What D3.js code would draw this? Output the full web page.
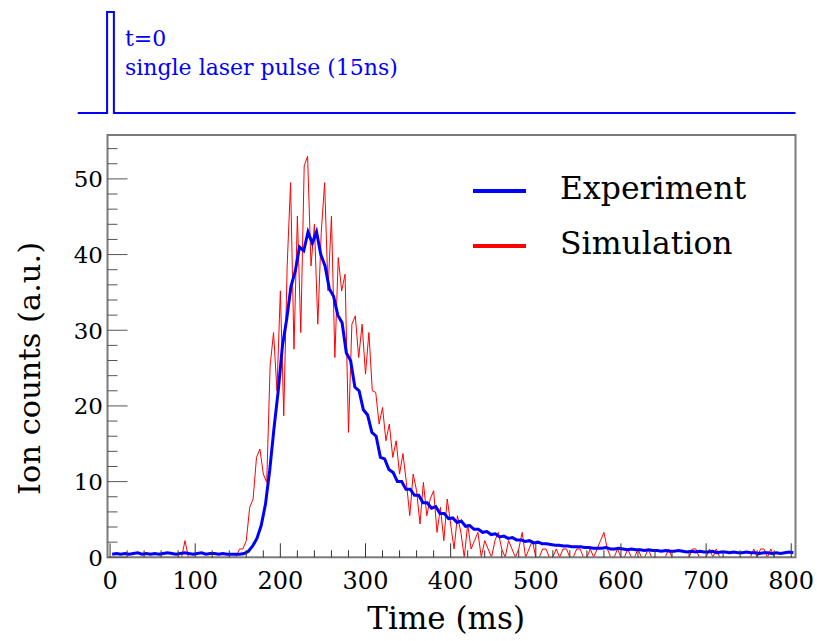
<!DOCTYPE html>
<html lang="en">
<head>
<meta charset="utf-8">
<title>Ion counts vs time</title>
<script src="https://cdn.jsdelivr.net/npm/d3@7"></script>
<style>
  body { margin: 0; background: #fff; }
  text { font-family: "DejaVu Serif", serif; }
</style>
</head>
<body>
<script>
const w = 817, h = 641;

// experiment histogram: bins of 5 ms starting at 0
const expBinWidth = 5;
const expCounts = [
  0.4, 0.5, 0.4, 0.5, 0.4, 0.5, 0.6, 0.4, 0.5, 0.4,
  0.5, 0.4, 0.5, 0.6, 0.5, 0.4, 0.5, 0.6, 0.5, 0.4,
  0.5, 0.6, 0.4, 0.5, 0.5, 0.4, 0.5, 0.4, 0.4, 0.4,
  0.4, 0.5, 0.8, 1.5, 2.5, 4.2, 7.0, 11.5, 17, 22,
  28, 31.5, 35.8, 37.8, 41, 40.5, 43, 41.5, 43, 40,
  38.5, 35.5, 34.5, 32, 31, 27, 26, 22.5, 22, 19.5,
  18.8, 16.5, 16, 13.2, 13, 11.6, 11.2, 10, 10, 9,
  9, 8.2, 8.2, 7.2, 7.2, 6.5, 6.7, 5.8, 5.8, 5.1,
  5.2, 4.6, 4.8, 4.1, 4.2, 3.7, 3.7, 3.3, 3.4, 3.0,
  3.1, 2.7, 2.8, 2.5, 2.6, 2.3, 2.3, 2.1, 2.2, 1.9,
  2.0, 1.8, 1.8, 1.7, 1.6, 1.6, 1.5, 1.5, 1.4, 1.4,
  1.4, 1.3, 1.3, 1.2, 1.2, 1.2, 1.3, 1.1, 1.1, 1.2,
  1.1, 1.0, 1.1, 1.0, 1.0, 0.9, 1.0, 0.9, 0.9, 0.8,
  0.9, 0.8, 0.8, 0.9, 0.8, 0.7, 0.8, 0.7, 0.8, 0.7,
  0.7, 0.8, 0.6, 0.7, 0.7, 0.6, 0.7, 0.6, 0.6, 0.7,
  0.6, 0.6, 0.5, 0.6, 0.6, 0.5, 0.6, 0.5, 0.6, 0.7,
  0.6
];

// simulation: one point every 4 ms starting at 0
const simStep = 4;
const simCounts = [
  0, 0, 0, 0, 0, 0, 0, 0, 0, 0,
  0, 0, 0, 0, 0, 0, 0, 0, 0, 0,
  0, 0, 2.2, 0, 0, 0, 0, 0, 0, 0,
  0, 0, 0, 0, 0, 0, 0, 0.0, 1.1, 1.1,
  2.2, 6.6, 7.7, 13.2, 14.3, 11, 9.9, 25.3, 29.7, 22,
  35.2, 18.7, 38.5, 49.5, 27.5, 45.1, 29.7, 51.7, 53, 38.5,
  44, 30.8, 42.9, 49.5, 35.2, 45.1, 26.4, 39.6, 35.2, 37.4,
  16.5, 30.8, 31.9, 26.4, 30.8, 24.2, 29.7, 22, 21.8, 17.6,
  19.8, 15.4, 17.6, 13.2, 15.4, 11, 13.7, 9.9, 5.5, 11,
  8.8, 4.4, 9.9, 5.5, 7.7, 8.8, 3.3, 6.6, 2.2, 7.7,
  4.4, 1.1, 5.5, 3.3, 0, 4.4, 1.1, 2.2, 3.3, 0,
  2.2, 1.1, 0, 2.2, 3.3, 1.1, 0, 2.2, 1.1, 0,
  1.1, 3.3, 0, 1.1, 2.2, 0, 0, 1.1, 1.1, 0,
  0, 1.1, 0, 1.1, 1.1, 0, 0, 1.1, 1.1, 0,
  0, 1.1, 0, 1.1, 2.2, 3.3, 1.1, 0, 0, 1.1,
  0, 0, 1.1, 0, 0, 1.1, 0, 0, 1.1, 0,
  0, 0, 0, 0, 1.1, 0, 0, 0, 0, 0,
  0, 1.1, 1.1, 0, 0, 0, 1.1, 0, 1.1, 0,
  0, 0, 0, 0, 0, 0, 0, 0, 0, 1.1,
  0, 1.1, 1.1, 0, 1.1, 0, 0, 0, 0, 0,
  0
];

// laser pulse in the top strip (time in ms, level 0/1)
const pulseTimes  = [-38, -3.5, -3.5, 4.5, 4.5, 805];
const pulseLevels = [0, 0, 1, 1, 0, 0];
const pulseText = ["t=0", "single laser pulse (15ns)"];

const xTicksMajor = [0, 100, 200, 300, 400, 500, 600, 700, 800];
const yTicksMajor = [0, 10, 20, 30, 40, 50];

const legendNames = ["Experiment", "Simulation"];
const legendColors = ["#0000ff", "#ff0000"];

const frame = { left: 107.5, right: 795.5, top: 135, bottom: 557.3 };

const x = d3.scaleLinear().domain([-3, 805]).range([frame.left, frame.right]);
const y = d3.scaleLinear().domain([0, 55.8]).range([frame.bottom, frame.top]);

const svg = d3.select("body").append("svg")
  .attr("width", w).attr("height", h);

// top strip: laser pulse
const yPulse = d3.scaleLinear().domain([0, 1]).range([113, 12]);
svg.append("path")
  .datum(d3.zip(pulseTimes, pulseLevels))
  .attr("d", d3.line().x(d => x(d[0])).y(d => yPulse(d[1])))
  .attr("fill", "none")
  .attr("stroke", "#0000ff")
  .attr("stroke-width", 2);

svg.selectAll("text.pulse")
  .data(pulseText)
  .enter().append("text")
  .attr("class", "pulse")
  .attr("x", 125)
  .attr("y", (d, i) => 46 + i * 29)
  .attr("font-size", 22)
  .attr("fill", "#0000ff")
  .text(d => d);

// clip data to the frame
svg.append("clipPath").attr("id", "clip")
  .append("rect")
  .attr("x", frame.left).attr("y", frame.top)
  .attr("width", frame.right - frame.left)
  .attr("height", frame.bottom - frame.top);

const plot = svg.append("g").attr("clip-path", "url(#clip)");

// simulation (thin red polyline)
plot.append("path")
  .datum(simCounts)
  .attr("d", d3.line().x((d, i) => x(i * simStep)).y(d => y(d)))
  .attr("fill", "none")
  .attr("stroke", "#ff0000")
  .attr("stroke-width", 1);

// experiment (thick blue line through bin centres)
plot.append("path")
  .datum(expCounts)
  .attr("d", d3.line()
    .x((d, i) => x(i * expBinWidth + expBinWidth / 2))
    .y(d => y(d)))
  .attr("fill", "none")
  .attr("stroke", "#0000ff")
  .attr("stroke-width", 3)
  .attr("stroke-linejoin", "miter");

// frame
svg.append("rect")
  .attr("x", frame.left).attr("y", frame.top)
  .attr("width", frame.right - frame.left)
  .attr("height", frame.bottom - frame.top)
  .attr("fill", "none")
  .attr("stroke", "#7a7a7a")
  .attr("stroke-width", 2);

// x ticks (inside, pointing up)
const xMinor = d3.range(0, 801, 20);
svg.selectAll("line.xt")
  .data(xMinor)
  .enter().append("line")
  .attr("class", "xt")
  .attr("x1", d => x(d)).attr("x2", d => x(d))
  .attr("y1", frame.bottom)
  .attr("y2", d => frame.bottom - (d % 100 === 0 ? 14 : 7))
  .attr("stroke", "#333")
  .attr("stroke-width", 1);

svg.selectAll("text.xl")
  .data(xTicksMajor)
  .enter().append("text")
  .attr("class", "xl")
  .attr("x", d => x(d))
  .attr("y", 589)
  .attr("text-anchor", "middle")
  .attr("font-size", 24)
  .text(d => d);

// y ticks (inside, pointing right)
const yMinor = d3.range(0, 55, 2);
svg.selectAll("line.yt")
  .data(yMinor)
  .enter().append("line")
  .attr("class", "yt")
  .attr("x1", frame.left)
  .attr("x2", d => frame.left + (d % 10 === 0 ? 20 : 10))
  .attr("y1", d => y(d)).attr("y2", d => y(d))
  .attr("stroke", "#555")
  .attr("stroke-width", 1);

svg.selectAll("text.yl")
  .data(yTicksMajor)
  .enter().append("text")
  .attr("class", "yl")
  .attr("x", 103)
  .attr("y", d => y(d))
  .attr("dy", "0.36em")
  .attr("text-anchor", "end")
  .attr("font-size", 23)
  .text(d => d);

// axis titles
svg.append("text")
  .attr("x", 525).attr("y", 629)
  .attr("text-anchor", "end")
  .attr("font-size", 31)
  .text("Time (ms)");

svg.append("text")
  .attr("transform", "translate(40,495) rotate(-90)")
  .attr("text-anchor", "start")
  .attr("font-size", 30.5)
  .text("Ion counts (a.u.)");

// legend
const legend = svg.selectAll("g.leg")
  .data(legendNames)
  .enter().append("g")
  .attr("class", "leg")
  .attr("transform", (d, i) => `translate(0,${191 + i * 55})`);

legend.append("line")
  .attr("x1", 473).attr("x2", 526)
  .attr("stroke", (d, i) => legendColors[i])
  .attr("stroke-width", 4);

legend.append("text")
  .attr("x", 560).attr("y", 8)
  .attr("font-size", 31.5)
  .text(d => d);
</script>
</body>
</html>
